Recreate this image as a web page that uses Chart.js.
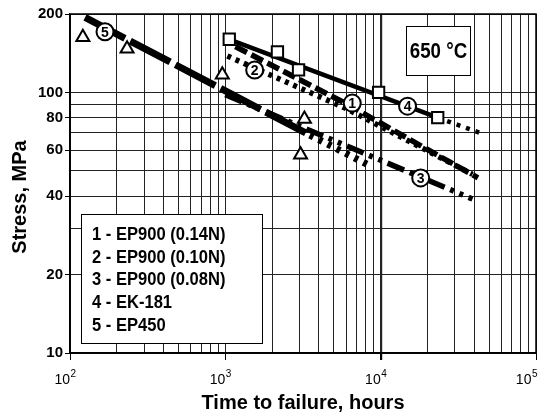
<!DOCTYPE html>
<html lang="en">
  <head>
    <meta charset="UTF-8" />
    <title>Stress rupture at 650 °C</title>
    <script src="https://cdn.jsdelivr.net/npm/chart.js"></script>
    <style>
      html, body { margin: 0; padding: 0; background: #fff; overflow: hidden; }
      #wrap { width: 538px; height: 417px; }
    </style>
  </head>
  <body>
    <div id="wrap"><canvas id="rupture-chart"></canvas></div>

    <script>
      // time to failure (hours) and stress (MPa)
      const ep900a_time = [1160, 6000, 42300];   // 1 - EP900 (0.14N)
      const ep900a_stress = [150, 90.5, 47];
      const ep900b_time = [1030, 5940, 39000];   // 2 - EP900 (0.10N)
      const ep900b_stress = [138, 87, 48.5];
      const ep900c_time = [1000, 39000];         // 3 - EP900 (0.08N)
      const ep900c_stress = [98, 39];
      const ek181_time = [1077, 23300, 43500];   // 4 - EK-181 (last part extrapolated)
      const ek181_stress = [159, 80, 70];
      const ep450_time = [125, 3500, 8600];      // 5 - EP450 (last part extrapolated)
      const ep450_stress = [194, 68.6, 52.2];

      // test points
      const ek181_pts_time = [1060, 2165, 2960, 9700, 23300];
      const ek181_pts_stress = [160, 143, 122, 100, 80];
      const ep450_pts_time = [121, 233, 956, 3230, 3050];
      const ep450_pts_stress = [163, 147, 117, 79, 57.6];

      // circled curve numbers
      const tagText = ['1', '2', '3', '4', '5'];
      const tagTime = [6560, 1545, 18100, 14900, 168];
      const tagStress = [91, 122, 47, 88.6, 171];

      const legendLines = [
        '1 - EP900 (0.14N)',
        '2 - EP900 (0.10N)',
        '3 - EP900 (0.08N)',
        '4 - EK-181',
        '5 - EP450',
      ];

      const timeGrid = [
        100, 200, 300, 400, 500, 600, 700, 800, 900,
        1000, 2000, 3000, 4000, 5000, 6000, 7000, 8000, 9000,
        10000, 20000, 30000, 40000, 50000, 60000, 70000, 80000, 90000,
        100000,
      ];
      const timeLabels = [100, 1000, 10000, 100000];
      const timeExp = ['2', '3', '4', '5'];
      const stressGrid = [10, 20, 30, 40, 50, 60, 70, 80, 90, 100, 200];
      const stressLabels = [10, 20, 40, 60, 80, 100, 200];

      const FONT = '"Liberation Sans", Arial, sans-serif';

      const pts = (xs, ys) => xs.map((x, i) => ({ x: x, y: ys[i] }));
      const tailDots = (ctx) => (ctx.p0DataIndex >= 1 ? [4, 6] : undefined);

      function lineSet(label, xs, ys, width, dash, segment) {
        return {
          label: label,
          data: pts(xs, ys),
          showLine: true,
          borderColor: '#000',
          borderWidth: width,
          borderDash: dash,
          borderCapStyle: 'butt',
          pointRadius: 0,
          order: 3,
          segment: segment,
        };
      }

      function textAt(ctx, text, x, y, font, align, sx) {
        ctx.save();
        ctx.translate(x, y);
        ctx.scale(sx, 1);
        ctx.font = font;
        ctx.textAlign = align;
        ctx.fillText(text, 0, 0);
        ctx.restore();
      }

      const decorations = {
        id: 'decorations',
        afterDatasetsDraw(chart) {
          const ctx = chart.ctx;
          const meta = chart.getDatasetMeta(chart.data.datasets.length - 1);
          ctx.save();
          ctx.fillStyle = '#000';
          ctx.textBaseline = 'middle';
          meta.data.forEach((p, i) => {
            textAt(ctx, tagText[i], p.x, p.y + 1, 'bold 14px ' + FONT, 'center', 1);
          });
          ctx.restore();
        },
        afterDraw(chart) {
          const ctx = chart.ctx;
          const area = chart.chartArea;
          const xs = chart.scales.x;
          ctx.save();

          // plot frame
          ctx.strokeStyle = '#000';
          ctx.lineWidth = 1.5;
          ctx.strokeRect(area.left, area.top, area.right - area.left, area.bottom - area.top);

          // temperature box
          ctx.fillStyle = '#fff';
          ctx.fillRect(406, 26, 65, 50);
          ctx.lineWidth = 1;
          ctx.strokeRect(406.5, 26.5, 64, 49);
          ctx.fillStyle = '#000';
          ctx.textBaseline = 'middle';
          textAt(ctx, '650 °C', 438.5, 52, 'bold 22px ' + FONT, 'center', 0.85);

          // legend box
          ctx.fillStyle = '#fff';
          ctx.fillRect(81, 214, 182, 130);
          ctx.strokeRect(81.5, 214.5, 181, 129);
          ctx.fillStyle = '#000';
          legendLines.forEach((t, i) => {
            textAt(ctx, t, 92, 235 + i * 22.7, 'bold 18px ' + FONT, 'left', 0.92);
          });

          // x tick labels as 10 with superscript power
          ctx.textBaseline = 'alphabetic';
          timeLabels.forEach((v, i) => {
            let x = xs.getPixelForValue(v);
            ctx.font = '10px ' + FONT;
            const ew = ctx.measureText(timeExp[i]).width;
            x += Math.min(0, chart.width - 1 - (x + ew));
            textAt(ctx, '10', x, 384, '14px ' + FONT, 'right', 1);
            textAt(ctx, timeExp[i], x + 0.5, 377, '10px ' + FONT, 'left', 1);
          });

          // axis titles
          ctx.textBaseline = 'middle';
          textAt(ctx, 'Time to failure, hours', 303, 403, 'bold 20px ' + FONT, 'center', 1);
          ctx.translate(20, 197);
          ctx.rotate(-Math.PI / 2);
          textAt(ctx, 'Stress, MPa', 0, 0, 'bold 20px ' + FONT, 'center', 1);
          ctx.restore();
        },
      };

      const ctx = document.getElementById('rupture-chart').getContext('2d');
      new Chart(ctx, {
        type: 'scatter',
        data: {
          datasets: [
            lineSet('1 - EP900 (0.14N)', ep900a_time, ep900a_stress, 5.5, [13, 5]),
            lineSet('2 - EP900 (0.10N)', ep900b_time, ep900b_stress, 5.5, [4, 5]),
            lineSet('3 - EP900 (0.08N)', ep900c_time, ep900c_stress, 5.5, [18, 6, 4, 6, 4, 6]),
            lineSet('4 - EK-181', ek181_time, ek181_stress, 4.5, [], { borderDash: tailDots }),
            lineSet('5 - EP450', ep450_time, ep450_stress, 7, [45, 6], { borderDash: tailDots }),
            {
              label: 'EK-181 tests',
              data: pts(ek181_pts_time, ek181_pts_stress),
              pointStyle: 'rect',
              pointRadius: 8,
              pointBackgroundColor: '#fff',
              pointBorderColor: '#000',
              pointBorderWidth: 2,
              order: 2,
            },
            {
              label: 'EP450 tests',
              data: pts(ep450_pts_time, ep450_pts_stress),
              pointStyle: 'triangle',
              pointRadius: 7.5,
              pointBackgroundColor: '#fff',
              pointBorderColor: '#000',
              pointBorderWidth: 2,
              order: 2,
            },
            {
              label: 'curve numbers',
              data: pts(tagTime, tagStress),
              pointStyle: 'circle',
              pointRadius: 8.5,
              pointBackgroundColor: '#fff',
              pointBorderColor: '#000',
              pointBorderWidth: 2,
              order: 1,
            },
          ],
        },
        options: {
          responsive: true,
          maintainAspectRatio: false,
          animation: false,
          layout: {
            autoPadding: false,
            padding: { top: 14, right: 2, left: 0, bottom: 0 },
          },
          plugins: {
            legend: { display: false },
            tooltip: { enabled: false },
          },
          scales: {
            x: {
              type: 'logarithmic',
              min: 100,
              max: 100000,
              afterBuildTicks: (s) => { s.ticks = timeGrid.map((v) => ({ value: v })); },
              afterFit: (s) => { s.height = 64; },
              ticks: { display: false },
              border: { color: '#000', width: 1.5 },
              grid: {
                color: '#222',
                lineWidth: (c) => (c.tick && c.tick.value === 10000 ? 2.2 : 1),
                tickLength: 7,
                tickColor: (c) => (c.tick && timeLabels.includes(c.tick.value) ? '#000' : 'rgba(0,0,0,0)'),
              },
            },
            y: {
              type: 'logarithmic',
              min: 10,
              max: 200,
              afterBuildTicks: (s) => { s.ticks = stressGrid.map((v) => ({ value: v })); },
              afterFit: (s) => { s.width = 70; },
              ticks: {
                autoSkip: false,
                padding: 2,
                color: '#000',
                font: { family: FONT, size: 15, weight: 'bold' },
                callback: (v) => (stressLabels.includes(v) ? String(v) : ''),
              },
              border: { color: '#000', width: 1.5 },
              grid: {
                color: '#222',
                lineWidth: 1,
                tickLength: 5,
                tickColor: (c) => (c.tick && stressLabels.includes(c.tick.value) ? '#000' : 'rgba(0,0,0,0)'),
              },
            },
          },
        },
        plugins: [decorations],
      });
    </script>
  </body>
</html>
